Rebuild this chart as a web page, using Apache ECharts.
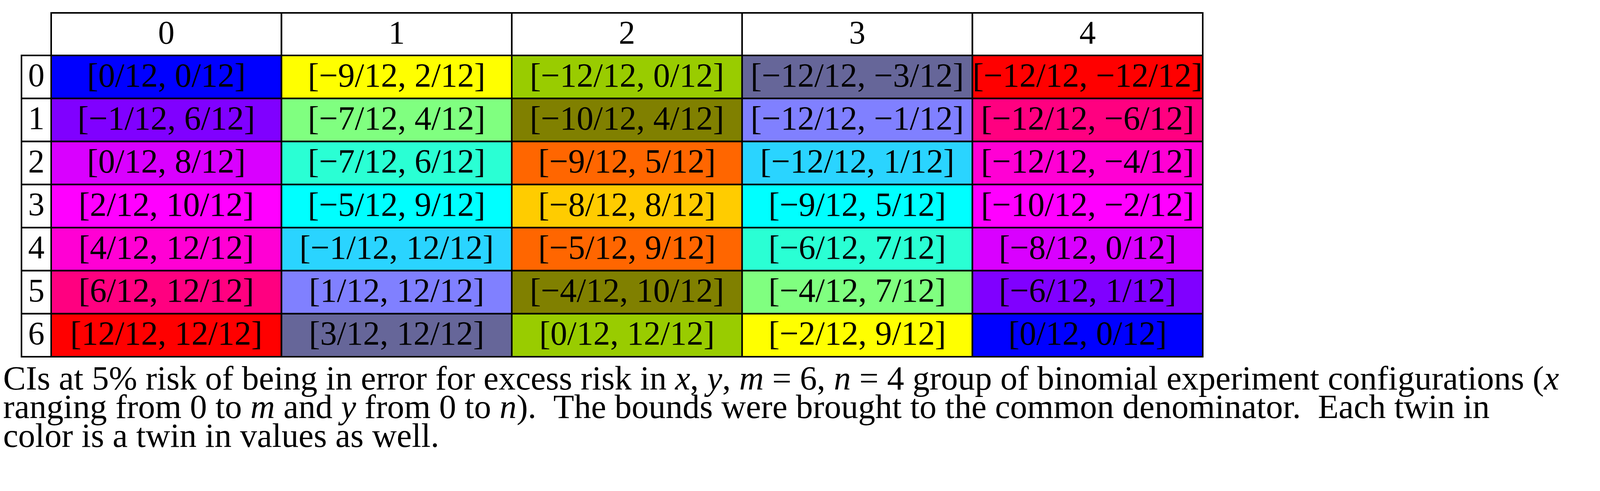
<!DOCTYPE html>
<html>
<head>
<meta charset="utf-8">
<script src="https://cdn.jsdelivr.net/npm/echarts@6/dist/echarts.min.js"></script>
<style>html,body{margin:0;padding:0;background:#fff}#main{width:4292px;height:1258px}</style>
</head>
<body>
<div id="main"></div>
<script>
var colLabels = ['0', '1', '2', '3', '4'];
var rowLabels = ['0', '1', '2', '3', '4', '5', '6'];
var denom = 12;
// lower / upper numerators; rows x = 0..6, cols y = 0..4
var lower = [
    [0, -9, -12, -12, -12],
    [-1, -7, -10, -12, -12],
    [0, -7, -9, -12, -12],
    [2, -5, -8, -9, -10],
    [4, -1, -5, -6, -8],
    [6, 1, -4, -4, -6],
    [12, 3, 0, -2, 0]
];
var upper = [
    [0, 2, 0, -3, -12],
    [6, 4, 4, -1, -6],
    [8, 6, 5, 1, -4],
    [10, 9, 8, 5, -2],
    [12, 12, 9, 7, 0],
    [12, 12, 10, 7, 1],
    [12, 12, 12, 9, 0]
];
var cellColors = [
    ['#0000ff', '#ffff00', '#99cc00', '#666699', '#ff0000'],
    ['#8000ff', '#80ff80', '#808000', '#8080ff', '#ff0080'],
    ['#d900ff', '#2affd4', '#ff6600', '#2ad4ff', '#ff00d4'],
    ['#ff00ff', '#00ffff', '#ffcc00', '#00ffff', '#ff00ff'],
    ['#ff00d4', '#2ad4ff', '#ff6600', '#2affd4', '#d900ff'],
    ['#ff0080', '#8080ff', '#808000', '#80ff80', '#8000ff'],
    ['#ff0000', '#666699', '#99cc00', '#ffff00', '#0000ff']
];

function frac(v) {
    return (v < 0 ? '\u2212' + (-v) : v) + '/' + denom;
}

var myChart = echarts.init(document.getElementById('main'));

var cells = [];
for (var r = 0; r < rowLabels.length; r++) {
    for (var c = 0; c < colLabels.length; c++) {
        cells.push({
            value: [c, r],
            name: '[' + frac(lower[r][c]) + ', ' + frac(upper[r][c]) + ']',
            itemStyle: { color: cellColors[r][c] }
        });
    }
}
var headCells = colLabels.map(function (l, i) { return { value: [i, 0], name: l, itemStyle: { color: '#fff' } }; });
var rowCells = rowLabels.map(function (l, i) { return { value: [0, i], name: l, itemStyle: { color: '#fff' } }; });

var font = 'Liberation Serif';

function hidden(data, idx, inverse) {
    return { type: 'category', data: data, gridIndex: idx, show: false, inverse: !!inverse };
}

function makeRender(fontSize) {
    return function (params, api) {
        var p = api.coord([api.value(0), api.value(1)]);
        var s = api.size([1, 1]);
        return {
            type: 'rect',
            shape: { x: p[0] - s[0] / 2, y: p[1] - s[1] / 2, width: s[0], height: s[1] },
            style: { fill: api.visual('color'), stroke: '#000', lineWidth: 4 },
            textContent: {
                style: {
                    text: cells.concat(headCells, rowCells)[0] && params.data ? '' : '',
                    fill: '#000'
                }
            }
        };
    };
}

function cellSeries(xi, yi, data, fontSize) {
    return {
        type: 'custom', xAxisIndex: xi, yAxisIndex: yi, data: data,
        renderItem: function (params, api) {
            var p = api.coord([api.value(0), api.value(1)]);
            var s = api.size([1, 1]);
            return {
                type: 'group',
                children: [{
                    type: 'rect',
                    shape: { x: p[0] - s[0] / 2, y: p[1] - s[1] / 2, width: s[0], height: s[1] },
                    style: { fill: api.visual('color'), stroke: '#000', lineWidth: 4 }
                }, {
                    type: 'text',
                    x: p[0], y: p[1] + 2,
                    style: {
                        text: data[params.dataIndex].name,
                        font: fontSize + 'px "Liberation Serif"',
                        fill: '#000', align: 'center', verticalAlign: 'middle'
                    }
                }]
            };
        }
    };
}

option = {
    animation: false,
    grid: [
        { left: 131, top: 33, width: 2948, height: 109 },
        { left: 55, top: 142, width: 76, height: 772 },
        { left: 131, top: 142, width: 2948, height: 772 }
    ],
    xAxis: [hidden(colLabels, 0), hidden(['h'], 1), hidden(colLabels, 2)],
    yAxis: [hidden(['h'], 0), hidden(rowLabels, 1, true), hidden(rowLabels, 2, true)],
    series: [
        cellSeries(0, 0, headCells, 84),
        cellSeries(1, 1, rowCells, 84),
        cellSeries(2, 2, cells, 86)
    ],
    graphic: [{
        type: 'text', x: 8, y: 975,
        style: {
            text: 'CIs at 5% risk of being in error for excess risk in {i|x}, {i|y}, {i|m} = 6, {i|n} = 4 group of binomial experiment configurations ({i|x}',
            font: '87px "Liberation Serif"', fill: '#000', verticalAlign: 'middle',
            rich: { i: { fontStyle: 'italic', fontFamily: font, fontSize: 87 } }
        }
    }, {
        type: 'text', x: 8, y: 1048,
        style: {
            text: 'ranging from 0 to {i|m} and {i|y} from 0 to {i|n}).  The bounds were brought to the common denominator.  Each twin in',
            font: '87px "Liberation Serif"', fill: '#000', verticalAlign: 'middle',
            rich: { i: { fontStyle: 'italic', fontFamily: font, fontSize: 87 } }
        }
    }, {
        type: 'text', x: 8, y: 1122,
        style: {
            text: 'color is a twin in values as well.',
            font: '87px "Liberation Serif"', fill: '#000', verticalAlign: 'middle'
        }
    }]
};

myChart.setOption(option);
</script>
</body>
</html>
